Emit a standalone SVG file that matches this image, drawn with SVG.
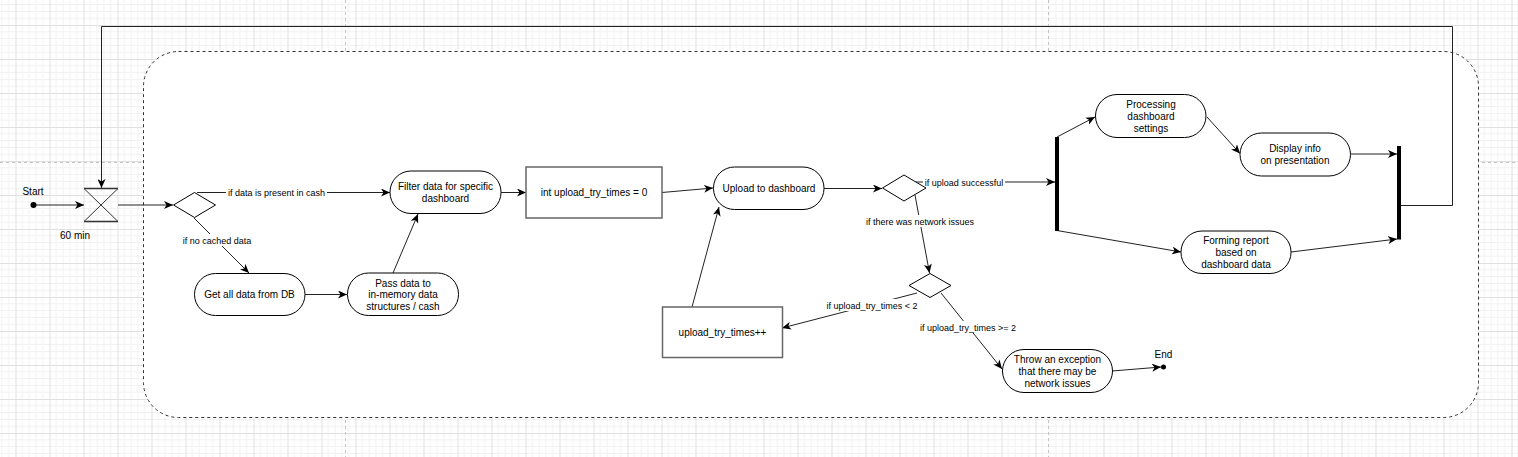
<svg xmlns="http://www.w3.org/2000/svg" width="1518" height="457" viewBox="0 0 1518 457">
<style>
text{font-family:"Liberation Sans",Arial,sans-serif;fill:#000;text-anchor:middle}
.nt{font-size:10px}
.lt{font-size:9px}
.node{fill:#fff;stroke:#000;stroke-width:1}
.box{fill:#fff;stroke:#666;stroke-width:1.5}
.bar{fill:#000}
.edge{fill:none;stroke:#222;stroke-width:1}
.lbg{fill:#fff}
.pb{stroke:#c4c4c4;stroke-width:1;stroke-dasharray:3 3;fill:none}
</style>
<defs>
<pattern id="grid" x="15.5" y="25" width="34" height="34" patternUnits="userSpaceOnUse">
<path d="M6.8,0V34M13.6,0V34M20.4,0V34M27.2,0V34M0,6.8H34M0,13.6H34M0,20.4H34M0,27.2H34" stroke="#f1f1f1" stroke-width="1" fill="none"/>
<path d="M0.5,0V34M0,0.5H34" stroke="#e0e0e0" stroke-width="1" fill="none"/>
</pattern>
<marker id="arr" markerUnits="userSpaceOnUse" markerWidth="9" markerHeight="8" viewBox="0 0 9 8" refX="9" refY="4" orient="auto">
<path d="M0,0 L9,4 L0,8 L2.5,4 Z" fill="#000"/>
</marker>
</defs>
<rect width="1518" height="457" fill="#fff"/>
<rect width="1518" height="457" fill="url(#grid)"/>
<path class="pb" d="M345.5,0V457M1048.5,0V457M0,162.5H1518"/>
<g id="container">
<rect x="143.5" y="51.5" width="1335" height="366" rx="35" ry="35" fill="#fff" stroke="#333" stroke-width="1" stroke-dasharray="3 3"/>
</g>
<g id="connectors">
<path class="edge" d="M34,205 H84" marker-end="url(#arr)"/>
<path class="edge" d="M118,205 H173" marker-end="url(#arr)"/>
<path class="edge" d="M197,192.5 H390" marker-end="url(#arr)"/>
<path class="edge" d="M194,218 L249,273" marker-end="url(#arr)"/>
<path class="edge" d="M305,294.5 H347" marker-end="url(#arr)"/>
<path class="edge" d="M393,273 L418,214" marker-end="url(#arr)"/>
<path class="edge" d="M501,192.5 H526" marker-end="url(#arr)"/>
<path class="edge" d="M662,192.5 L713,188" marker-end="url(#arr)"/>
<path class="edge" d="M824,188.5 H882" marker-end="url(#arr)"/>
<path class="edge" d="M916,182 H1055" marker-end="url(#arr)"/>
<path class="edge" d="M915,195 L929.5,273" marker-end="url(#arr)"/>
<path class="edge" d="M917,293 L782,328" marker-end="url(#arr)"/>
<path class="edge" d="M692,307 L719,207" marker-end="url(#arr)"/>
<path class="edge" d="M941,293 L1002,369" marker-end="url(#arr)"/>
<path class="edge" d="M1112,371 L1161,367" marker-end="url(#arr)"/>
<path class="edge" d="M1057,137 L1095,117" marker-end="url(#arr)"/>
<path class="edge" d="M1207,117 L1240,153.5" marker-end="url(#arr)"/>
<path class="edge" d="M1351,154 H1397" marker-end="url(#arr)"/>
<path class="edge" d="M1057,230.5 L1181,252" marker-end="url(#arr)"/>
<path class="edge" d="M1291,252 L1397,239" marker-end="url(#arr)"/>
<path class="edge" d="M1401,205.5 H1452.5 V26.5 H101.5 V188" marker-end="url(#arr)"/>
<rect class="lbg" x="226" y="186" width="101" height="12"/>
<text class="lt" x="276.5" y="195.5">if data is present in cash</text>
<rect class="lbg" x="182" y="234" width="70" height="12"/>
<text class="lt" x="217" y="243.5">if no cached data</text>
<rect class="lbg" x="923" y="176" width="82" height="12"/>
<text class="lt" x="964" y="185.5">if upload successful</text>
<rect class="lbg" x="864" y="215" width="112" height="12"/>
<text class="lt" x="920" y="224.5">if there was network issues</text>
<rect class="lbg" x="825" y="299" width="94" height="12"/>
<text class="lt" x="872" y="308.5">if upload_try_times &lt; 2</text>
<rect class="lbg" x="918" y="321" width="100" height="12"/>
<text class="lt" x="968" y="330.5">if upload_try_times &gt;= 2</text>
</g>
<g id="start">
<circle cx="33.5" cy="205" r="3" fill="#000"/>
<text class="nt" x="33" y="195">Start</text>
</g>
<g id="timer">
<path d="M84,188.5 H118 L84,221.5 H118 Z" fill="none" stroke="#333" stroke-width="1"/>
<path d="M84,188.5 H118 M84,221.5 H118" stroke="#333" stroke-width="1.5"/>
<text class="nt" x="75" y="238.5">60 min</text>
</g>
<g id="decision1">
<path class="node" d="M173.5,205 L194.5,192.5 L215.5,205 L194.5,217.5 Z"/>
</g>
<g id="get-data">
<rect class="node" x="194.5" y="273.5" width="110.5" height="42" rx="21" ry="21"/>
<text class="nt" x="249.5" y="298">Get all data from DB</text>
</g>
<g id="pass-data">
<rect class="node" x="347.5" y="273" width="111" height="42.5" rx="21" ry="21"/>
<text class="nt" x="403" y="286.5">Pass data to</text>
<text class="nt" x="403" y="298">in-memory data</text>
<text class="nt" x="403" y="310">structures / cash</text>
</g>
<g id="filter">
<rect class="node" x="390" y="171" width="111" height="42.5" rx="21" ry="21"/>
<text class="nt" x="445.5" y="189.5">Filter data for specific</text>
<text class="nt" x="445.5" y="202">dashboard</text>
</g>
<g id="init">
<rect class="box" x="526" y="167" width="136" height="51"/>
<text class="nt" x="594" y="196">int upload_try_times = 0</text>
</g>
<g id="upload">
<rect class="node" x="713.5" y="167" width="110.5" height="42.5" rx="21" ry="21"/>
<text class="nt" x="769" y="191.5">Upload to dashboard</text>
</g>
<g id="decision2">
<path class="node" d="M882.5,188 L904,175 L926,188 L904,201 Z"/>
</g>
<g id="decision3">
<path class="node" d="M909,285.5 L930,273.5 L951,285.5 L930,297.5 Z"/>
</g>
<g id="increment">
<rect class="box" x="662.5" y="307" width="120" height="50.5"/>
<text class="nt" x="722.5" y="336">upload_try_times++</text>
</g>
<g id="exception">
<rect class="node" x="1002.5" y="349.5" width="110" height="43" rx="21.5" ry="21.5"/>
<text class="nt" x="1057.5" y="362.5">Throw an exception</text>
<text class="nt" x="1057.5" y="374.5">that there may be</text>
<text class="nt" x="1057.5" y="386.5">network issues</text>
</g>
<g id="end">
<circle cx="1163.5" cy="367" r="2.5" fill="#000"/>
<text class="nt" x="1163.5" y="357.5">End</text>
</g>
<g id="fork">
<rect class="bar" x="1055" y="137" width="4" height="94"/>
</g>
<g id="processing">
<rect class="node" x="1095.5" y="94.5" width="110.5" height="43" rx="21.5" ry="21.5"/>
<text class="nt" x="1151" y="107.5">Processing</text>
<text class="nt" x="1151" y="119.5">dashboard</text>
<text class="nt" x="1151" y="131.5">settings</text>
</g>
<g id="display">
<rect class="node" x="1240" y="133" width="110.5" height="43" rx="21.5" ry="21.5"/>
<text class="nt" x="1295" y="151.5">Display info</text>
<text class="nt" x="1295" y="164">on presentation</text>
</g>
<g id="forming">
<rect class="node" x="1181" y="231" width="110" height="42.5" rx="21" ry="21"/>
<text class="nt" x="1236" y="243.5">Forming report</text>
<text class="nt" x="1236" y="255.5">based on</text>
<text class="nt" x="1236" y="267.5">dashboard data</text>
</g>
<g id="join">
<rect class="bar" x="1397" y="146" width="4" height="93.5"/>
</g>
</svg>
